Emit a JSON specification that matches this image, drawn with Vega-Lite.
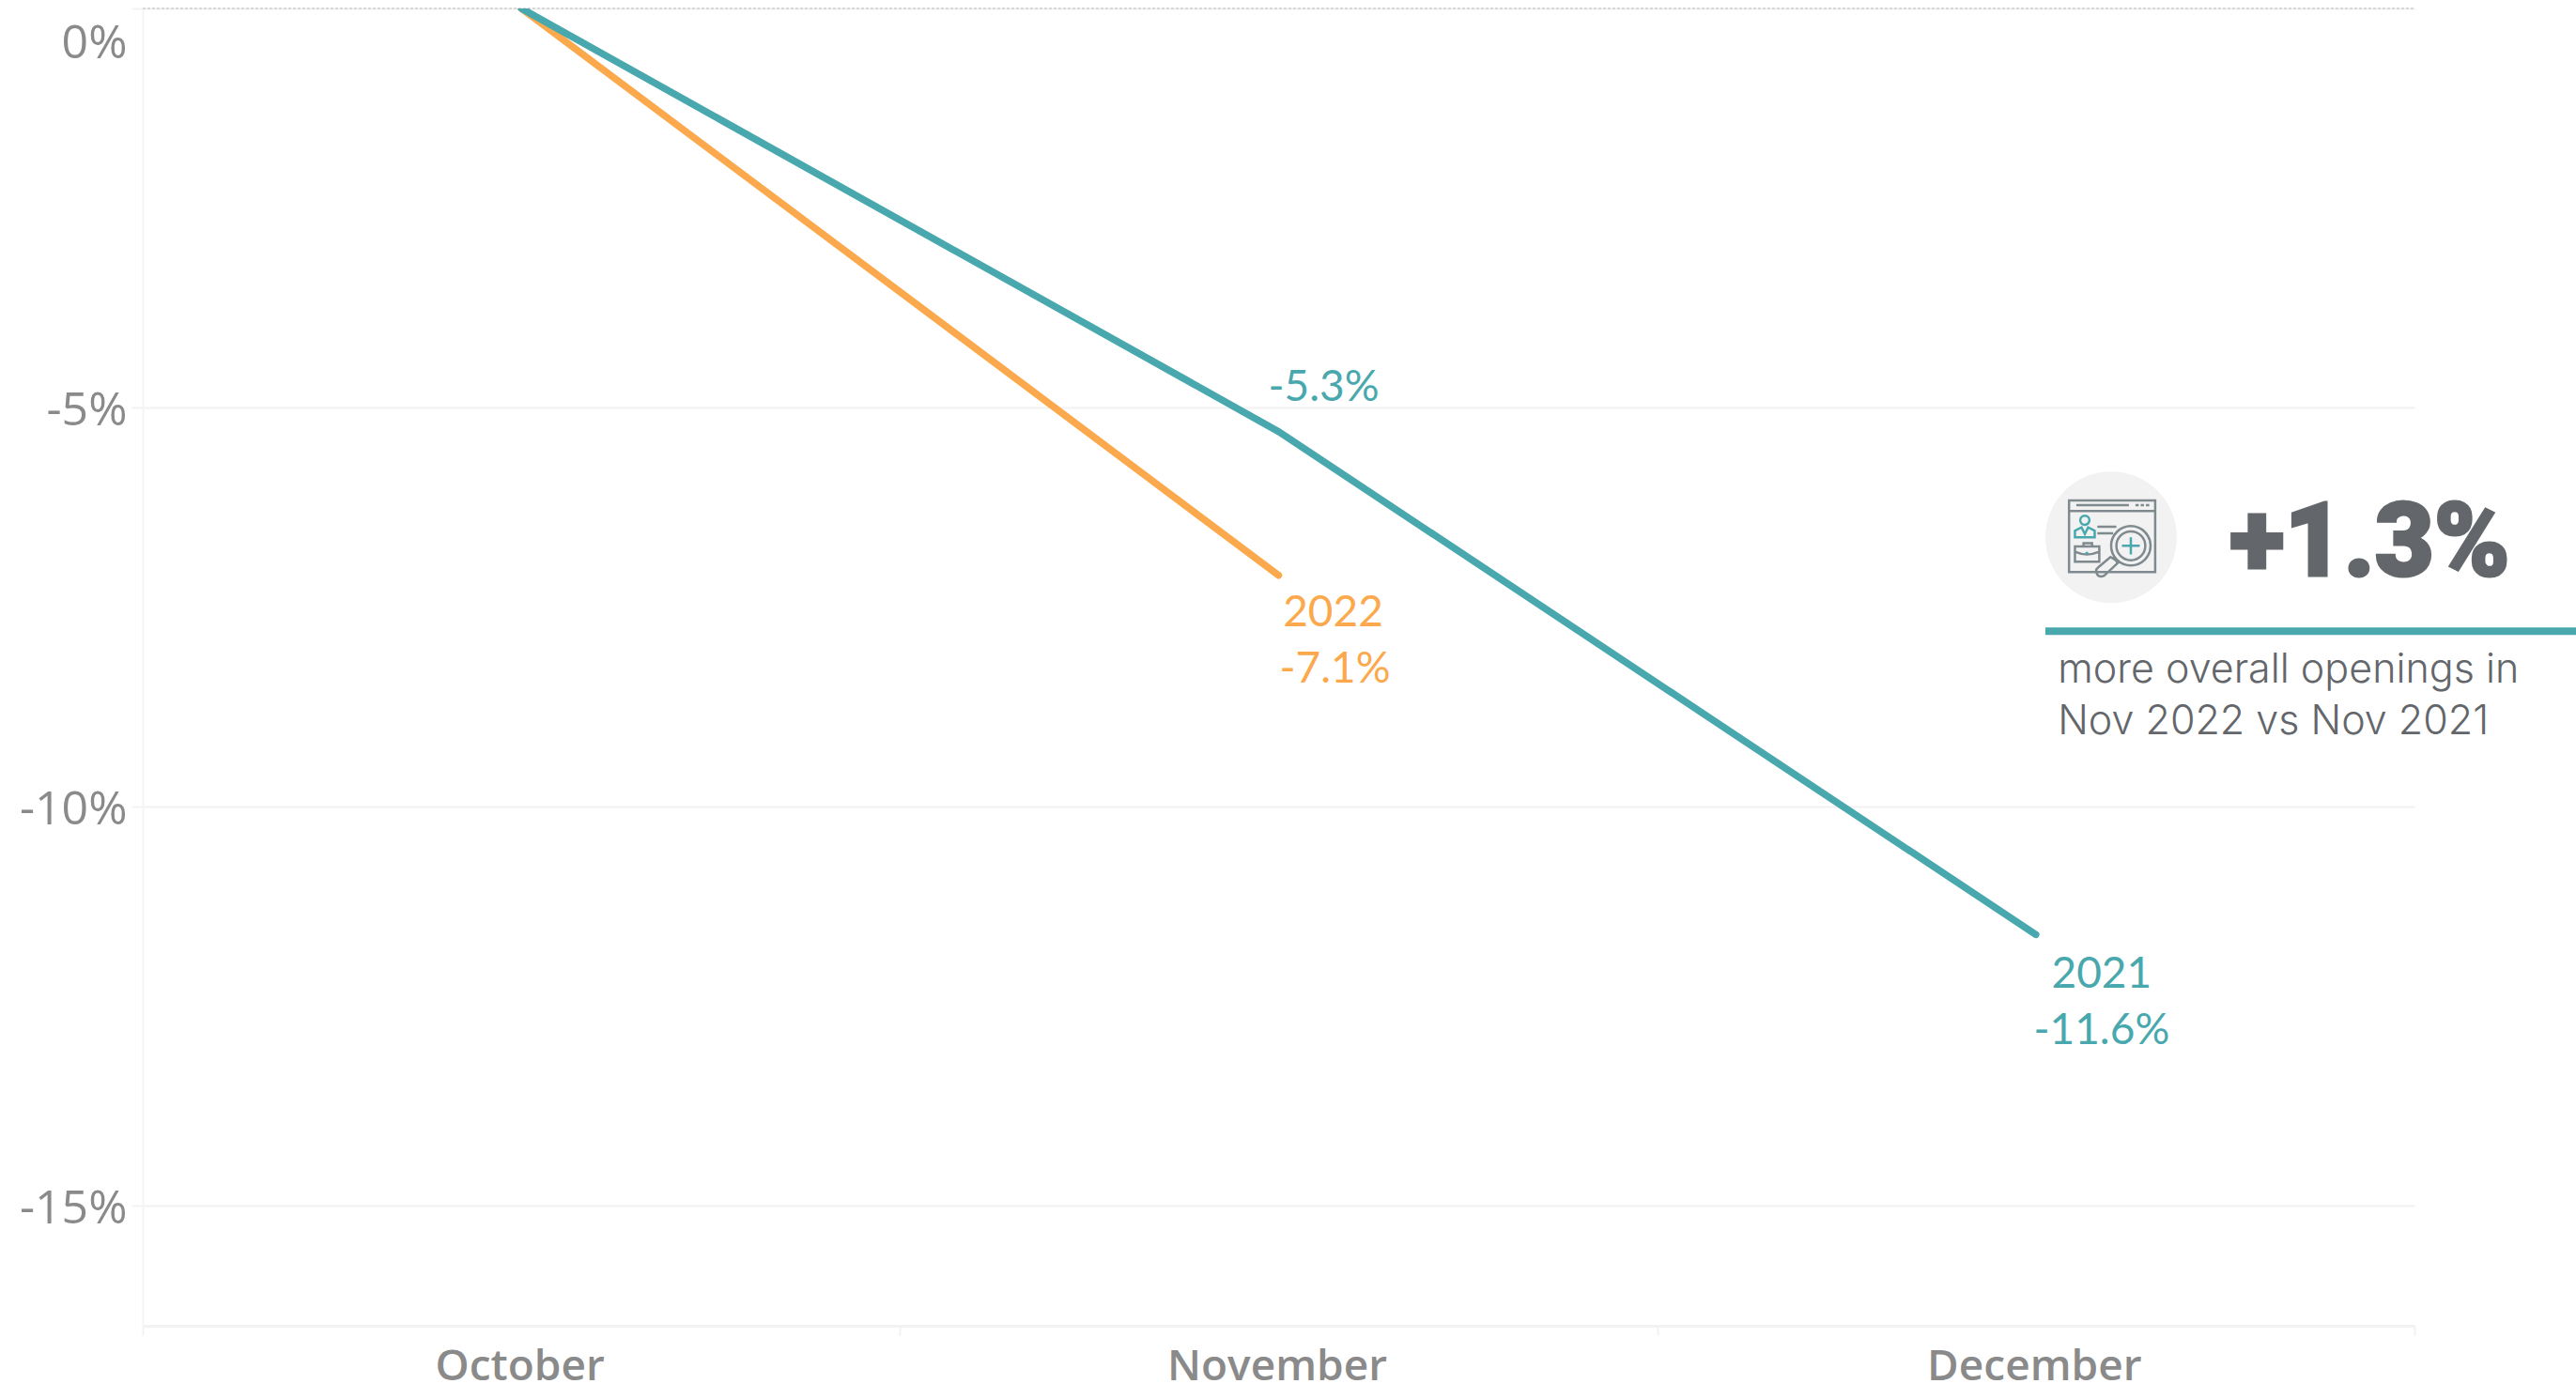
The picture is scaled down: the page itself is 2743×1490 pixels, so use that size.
{
"$schema":"https://vega.github.io/schema/vega-lite/v6.json",
"width":2419,"height":1403,
"autosize":{"type":"none"},
"padding":{"left":152,"top":9,"right":172,"bottom":78},
"background":"white",
"view":{"stroke":null},
"datasets":{"series":[
{"month":"October","year":"2021","change":0,"label":""},
{"month":"November","year":"2021","change":-5.3,"label":"-5.3%"},
{"month":"December","year":"2021","change":-11.6,"label":"-11.6%"},
{"month":"October","year":"2022","change":0,"label":""},
{"month":"November","year":"2022","change":-7.1,"label":"-7.1%"}
],
"callout":[{"headline":"+1.3%","line1":"more overall openings in","line2":"Nov 2022 vs Nov 2021"}]},
"layer":[
{"data":{"name":"series"},
"encoding":{"x":{"field":"month","type":"nominal","title":null,"sort":["October","November","December"],
"scale":{"type":"band","paddingInner":0,"paddingOuter":0},
"axis":{"labelAngle":0,"labelLimit":500,"tickBand":"extent","grid":false,"domainColor":"#f2f2f2","domainWidth":3,"tickColor":"#f2f2f2","tickWidth":2,"tickSize":10,"labelFont":"Open Sans","labelFontSize":46,"labelFontWeight":600,"labelColor":"#8a8a8a","labelPadding":11,"labelOffset":-2}},
"y":{"field":"change","type":"quantitative","title":null,
"scale":{"domain":[-16.5,0],"nice":false,"zero":false},
"axis":{"values":[0,-5,-10,-15],"labelExpr":"datum.value+'%'","grid":true,"gridColor":"#f2f2f2","gridWidth":2,"tickColor":"#f2f2f2","tickWidth":2,"tickSize":12,"domainColor":"#f5f5f5","domainWidth":2,"labelFont":"Open Sans","labelFontSize":50,"labelFontWeight":500,"labelColor":"#8a8a8a","labelPadding":5,"labelOffset":{"condition":{"test":"datum.value==0","value":37},"value":3},"labelBound":false,"labelFlush":false}},
"color":{"field":"year","type":"nominal","legend":null,"scale":{"domain":["2021","2022"],"range":["#48a8ae","#fba94c"]}}},
"layer":[
{"mark":{"type":"rule","stroke":"#d8d8d8","strokeWidth":1,"strokeDash":[3,2]},"encoding":{"y":{"datum":0},"x":{"value":0},"x2":{"value":2419},"color":{"value":"#d8d8d8"}}},
{"transform":[{"filter":"datum.year=='2022'"}],"mark":{"type":"line","strokeWidth":7.5,"strokeCap":"round","clip":true}},
{"transform":[{"filter":"datum.year=='2021'"}],"mark":{"type":"line","strokeWidth":7.5,"strokeCap":"round","clip":true}},
{"transform":[{"filter":"datum.year=='2021' && datum.month=='November'"}],"mark":{"type":"text","font":"Lato","fontSize":46,"dx":48,"dy":-33,"baseline":"alphabetic"},"encoding":{"text":{"field":"label"}}},
{"transform":[{"filter":"datum.year=='2022' && datum.month=='November'"}],"mark":{"type":"text","font":"Lato","fontSize":46,"dx":60,"dy":114,"baseline":"alphabetic"},"encoding":{"text":{"field":"label"}}},
{"transform":[{"filter":"datum.year=='2022' && datum.month=='November'"}],"mark":{"type":"text","font":"Lato","fontSize":46,"dx":58,"dy":54,"baseline":"alphabetic"},"encoding":{"text":{"field":"year"}}},
{"transform":[{"filter":"datum.year=='2021' && datum.month=='December'"}],"mark":{"type":"text","font":"Lato","fontSize":46,"dx":70,"dy":117,"baseline":"alphabetic"},"encoding":{"text":{"field":"label"}}},
{"transform":[{"filter":"datum.year=='2021' && datum.month=='December'"}],"mark":{"type":"text","font":"Lato","fontSize":46,"dx":70,"dy":57,"baseline":"alphabetic"},"encoding":{"text":{"field":"year"}}}
]},
{"data":{"name":"callout"},
"mark":{"type":"point","filled":true,"shape":"circle","size":19600,"color":"#f2f2f2","opacity":1},
"encoding":{"x":{"datum":2.5994,"type":"quantitative","scale":{"domain":[0,3],"nice":false,"zero":false},"axis":null},"y":{"datum":-6.624,"type":"quantitative"}}},
{"data":{"name":"callout"},
"mark":{"type":"point","filled":false,"size":19600,"stroke":"#7f8a8f","strokeWidth":2.5,"opacity":1,"shape":"M-.64 -.56H.67V.53H-.64ZM-.64 -.4H.67M-.53 -.49H.27M.37 -.49H.42M.45 -.49H.5M.53 -.49H.58M-.21 -.16H.08M-.21 -.06H.03M-.55 .14H-.18V.37H-.55ZM-.42 .14V.09H-.29V.14M-.55 .22Q-.37 .3 -.18 .22M.6 .13A.3 .3 0 1 1 0 .13A.3 .3 0 1 1 .6 .13M.52 .13A.22 .22 0 1 1 .08 .13A.22 .22 0 1 1 .52 .13M.06 .34L.1 .39L-.1 .58Q-.17 .62 -.21 .57Q-.25 .5 -.2 .46L-.01 .3Z"},
"encoding":{"x":{"datum":2.5994,"type":"quantitative","scale":{"domain":[0,3],"nice":false,"zero":false},"axis":null},"y":{"datum":-6.624,"type":"quantitative"}}},
{"data":{"name":"callout"},
"mark":{"type":"point","filled":false,"size":19600,"stroke":"#48a8ae","strokeWidth":2.5,"opacity":1,"shape":"M-.33 -.26A.07 .07 0 1 1 -.47 -.26A.07 .07 0 1 1 -.33 -.26M-.55 0V-.1L-.45 -.15L-.4 -.05L-.35 -.15L-.25 -.1V0ZM.3 0V.26M.165 .13H.435M-.39 .24H-.35"},
"encoding":{"x":{"datum":2.5994,"type":"quantitative","scale":{"domain":[0,3],"nice":false,"zero":false},"axis":null},"y":{"datum":-6.624,"type":"quantitative"}}},
{"data":{"name":"callout"},
"mark":{"type":"rule","stroke":"#48a8ae","strokeWidth":8},
"encoding":{"x":{"datum":2.5126,"type":"quantitative","scale":{"domain":[0,3],"nice":false,"zero":false},"axis":null},"x2":{"datum":3.2133},"y":{"datum":-7.8,"type":"quantitative"}}},
{"data":{"name":"callout"},
"mark":{"type":"text","font":"Roboto","fontWeight":900,"fontSize":109,"align":"left","baseline":"alphabetic","color":"#63666a","stroke":"#63666a","strokeWidth":3},
"encoding":{"x":{"datum":2.756,"type":"quantitative","scale":{"domain":[0,3],"nice":false,"zero":false},"axis":null},"y":{"datum":-7.106,"type":"quantitative"},"text":{"field":"headline"}}},
{"data":{"name":"callout"},
"mark":{"type":"text","font":"Inter","fontWeight":300,"fontSize":43,"align":"left","baseline":"alphabetic","color":"#63666a"},
"encoding":{"x":{"datum":2.529,"type":"quantitative","scale":{"domain":[0,3],"nice":false,"zero":false},"axis":null},"y":{"datum":-8.447,"type":"quantitative"},"text":{"field":"line1"}}},
{"data":{"name":"callout"},
"mark":{"type":"text","font":"Inter","fontWeight":300,"fontSize":43,"align":"left","baseline":"alphabetic","color":"#63666a"},
"encoding":{"x":{"datum":2.529,"type":"quantitative","scale":{"domain":[0,3],"nice":false,"zero":false},"axis":null},"y":{"datum":-9.094,"type":"quantitative"},"text":{"field":"line2"}}}
],
"resolve":{"scale":{"x":"independent","color":"independent"}}
}
